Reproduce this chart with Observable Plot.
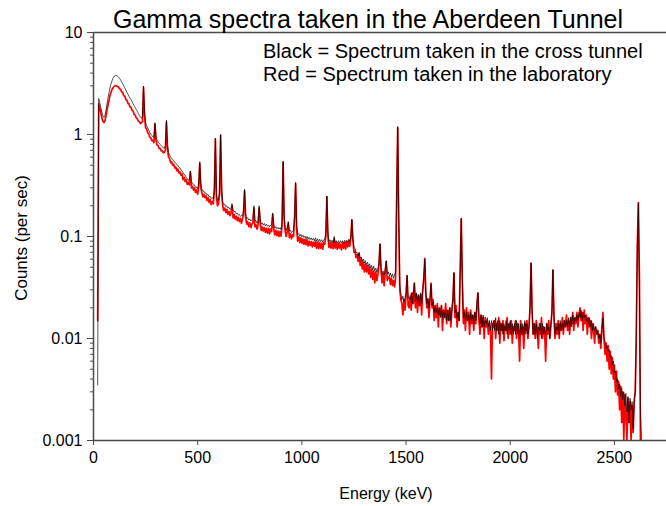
<!DOCTYPE html>
<html><head><meta charset="utf-8">
<script src="https://cdn.jsdelivr.net/npm/d3@7"></script>
<script src="https://cdn.jsdelivr.net/npm/@observablehq/plot@0.6"></script>
<style>
body{margin:0;background:#fff;}
#wrap{position:relative;width:666px;height:506px;font-family:"Liberation Sans",Arial,sans-serif;color:#000;}
.t{position:absolute;white-space:nowrap;line-height:1;}
</style></head><body>
<div id="wrap"></div>
<script>
// channel calibration (keV)
const startEnergy = 20, stepEnergy = 5;
// Black: spectrum taken in the cross tunnel (counts per sec)
const crossTunnel = [
0.0035,2.25,2.05,1.85,1.66,1.52,1.47,1.54,1.74,2.0,2.3,2.62,2.92,3.18,3.42,3.6,3.74,3.8,3.79,3.74,
3.66,3.55,3.43,3.28,3.15,3.0,2.87,2.72,2.6,2.49,2.37,2.28,2.2,2.1,2.01,1.92,1.84,1.76,1.69,1.61,
1.54,1.48,1.45,1.5,2.98,1.7,1.3,1.22,1.16,1.11,1.05,1.01,0.98,0.95,0.94,1.3,0.96,0.88,0.85,0.82,
0.8,0.78,0.76,0.74,0.73,0.78,1.38,0.8,0.67,0.63,0.6,0.58,0.57,0.55,0.54,0.52,0.51,0.5,0.48,0.47,
0.45,0.435,0.425,0.405,0.4,0.375,0.372,0.355,0.362,0.44,0.345,0.335,0.318,0.32,0.305,0.305,0.295,0.34,0.54,0.33,
0.29,0.278,0.278,0.266,0.268,0.255,0.258,0.245,0.248,0.236,0.24,0.236,0.3,0.92,0.26,0.226,0.228,0.28,1.0,0.3,
0.218,0.205,0.208,0.196,0.2,0.19,0.193,0.184,0.188,0.21,0.182,0.174,0.177,0.167,0.17,0.162,0.165,0.157,0.161,0.16,
0.18,0.29,0.17,0.15,0.153,0.145,0.149,0.142,0.146,0.15,0.2,0.142,0.143,0.135,0.142,0.2,0.15,0.132,0.136,0.129,
0.134,0.127,0.132,0.126,0.13,0.124,0.129,0.13,0.17,0.13,0.121,0.125,0.119,0.123,0.118,0.122,0.117,0.14,0.55,0.16,
0.122,0.115,0.122,0.14,0.113,0.116,0.109,0.113,0.115,0.16,0.34,0.13,0.104,0.107,0.101,0.105,0.099,0.103,0.098,0.101,
0.095,0.1,0.094,0.098,0.093,0.097,0.092,0.096,0.091,0.097,0.09,0.095,0.089,0.094,0.089,0.093,0.088,0.093,0.093,0.11,
0.25,0.11,0.089,0.093,0.087,0.092,0.087,0.1,0.087,0.091,0.086,0.091,0.085,0.091,0.086,0.091,0.086,0.092,0.087,0.092,
0.088,0.094,0.09,0.1,0.148,0.095,0.078,0.077,0.069,0.07,0.064,0.07,0.061,0.063,0.057,0.06,0.055,0.058,0.053,0.056,
0.051,0.054,0.049,0.052,0.047,0.051,0.046,0.049,0.045,0.048,0.055,0.085,0.05,0.043,0.046,0.042,0.048,0.058,0.043,0.045,
0.041,0.044,0.04,0.043,0.039,0.042,0.045,0.25,1.2,0.15,0.034,0.028,0.024,0.026,0.023,0.025,0.028,0.042,0.025,0.025,
0.024,0.028,0.022,0.029,0.035,0.023,0.028,0.022,0.027,0.021,0.028,0.022,0.029,0.04,0.06,0.03,0.022,0.025,0.02,0.025,
0.034,0.021,0.023,0.018,0.021,0.018,0.02,0.017,0.02,0.016,0.021,0.016,0.019,0.016,0.019,0.015,0.019,0.015,0.02,0.015,
0.019,0.025,0.044,0.018,0.019,0.016,0.018,0.015,0.05,0.15,0.04,0.016,0.018,0.015,0.018,0.015,0.017,0.014,0.018,0.015,
0.017,0.014,0.018,0.015,0.022,0.028,0.016,0.014,0.017,0.013,0.017,0.013,0.015,0.014,0.016,0.013,0.015,0.012,0.015,0.012,
0.015,0.012,0.016,0.012,0.015,0.011,0.015,0.012,0.014,0.011,0.014,0.012,0.015,0.011,0.014,0.012,0.015,0.011,0.014,0.011,
0.014,0.011,0.015,0.011,0.014,0.01,0.014,0.011,0.014,0.011,0.015,0.011,0.014,0.011,0.013,0.02,0.055,0.02,0.011,0.014,
0.011,0.014,0.01,0.013,0.012,0.014,0.01,0.014,0.011,0.013,0.011,0.014,0.012,0.013,0.01,0.014,0.018,0.047,0.017,0.011,
0.013,0.012,0.014,0.011,0.015,0.012,0.014,0.012,0.015,0.013,0.015,0.013,0.016,0.012,0.016,0.013,0.017,0.014,0.016,0.015,
0.017,0.015,0.018,0.016,0.019,0.015,0.018,0.016,0.017,0.015,0.016,0.014,0.016,0.013,0.015,0.012,0.014,0.012,0.013,0.011,
0.012,0.01,0.011,0.009,0.012,0.016,0.01,0.0095,0.008,0.0085,0.0075,0.0078,0.0065,0.0068,0.0055,0.006,0.0046,0.0048,0.0038,0.004,
0.0032,0.0036,0.0027,0.0033,0.0025,0.003,0.0022,0.0029,0.0019,0.0027,0.0015,0.0026,0.002,0.0024,0.0013,0.0025,0.003,0.012,0.08,0.21,
0.03,0.002,0.001
];
// Red: spectrum taken in the laboratory (counts per sec)
const laboratory = [
0.015,2.0,1.82,1.64,1.46,1.35,1.31,1.36,1.52,1.75,1.97,2.2,2.45,2.62,2.8,2.88,2.98,3.02,2.98,2.95,
2.93,2.8,2.78,2.62,2.6,2.4,2.38,2.2,2.18,2.02,2.0,1.86,1.86,1.73,1.7,1.58,1.55,1.46,1.43,1.35,
1.34,1.28,1.31,1.33,2.9,1.52,1.16,1.14,1.04,1.02,0.94,0.93,0.87,0.88,0.83,1.27,0.87,0.79,0.78,0.73,
0.73,0.69,0.69,0.66,0.67,0.7,1.32,0.73,0.6,0.58,0.53,0.54,0.5,0.51,0.47,0.48,0.44,0.46,0.42,0.43,
0.4,0.41,0.36,0.38,0.345,0.36,0.325,0.34,0.32,0.43,0.3,0.31,0.285,0.3,0.27,0.285,0.26,0.31,0.52,0.3,
0.27,0.245,0.26,0.24,0.25,0.225,0.24,0.215,0.23,0.205,0.22,0.21,0.28,0.9,0.245,0.2,0.21,0.26,0.98,0.27,
0.2,0.18,0.19,0.172,0.185,0.165,0.176,0.16,0.172,0.2,0.152,0.165,0.148,0.158,0.143,0.154,0.14,0.15,0.135,0.148,
0.165,0.28,0.155,0.132,0.14,0.125,0.136,0.122,0.132,0.136,0.19,0.124,0.13,0.118,0.13,0.19,0.136,0.115,0.124,0.113,
0.122,0.11,0.12,0.108,0.12,0.106,0.118,0.112,0.165,0.12,0.104,0.115,0.102,0.113,0.1,0.112,0.101,0.13,0.53,0.15,
0.112,0.1,0.113,0.135,0.098,0.106,0.095,0.104,0.1,0.15,0.33,0.118,0.09,0.099,0.087,0.097,0.086,0.095,0.084,0.094,
0.083,0.093,0.081,0.09,0.082,0.089,0.079,0.088,0.08,0.09,0.077,0.088,0.076,0.087,0.077,0.086,0.075,0.087,0.084,0.1,
0.245,0.1,0.078,0.087,0.077,0.086,0.076,0.095,0.077,0.086,0.075,0.085,0.077,0.084,0.074,0.086,0.077,0.087,0.075,0.088,
0.079,0.09,0.08,0.097,0.145,0.092,0.07,0.072,0.062,0.066,0.057,0.068,0.052,0.06,0.048,0.056,0.045,0.054,0.045,0.052,
0.043,0.05,0.04,0.048,0.038,0.046,0.035,0.045,0.037,0.043,0.052,0.084,0.046,0.035,0.043,0.033,0.045,0.057,0.037,0.04,
0.04,0.034,0.039,0.033,0.037,0.032,0.04,0.24,1.16,0.14,0.03,0.024,0.022,0.017,0.024,0.019,0.026,0.041,0.021,0.02,
0.026,0.019,0.028,0.022,0.035,0.02,0.027,0.018,0.026,0.021,0.027,0.017,0.03,0.038,0.061,0.026,0.02,0.024,0.016,0.023,
0.035,0.02,0.024,0.015,0.021,0.016,0.022,0.013,0.02,0.017,0.021,0.012,0.019,0.016,0.022,0.014,0.019,0.015,0.02,0.013,
0.019,0.024,0.044,0.016,0.021,0.013,0.018,0.015,0.048,0.15,0.038,0.014,0.019,0.012,0.02,0.015,0.018,0.011,0.019,0.014,
0.017,0.012,0.018,0.014,0.021,0.028,0.015,0.011,0.017,0.013,0.016,0.01,0.016,0.013,0.015,0.011,0.014,0.012,0.004,0.014,
0.013,0.015,0.01,0.014,0.012,0.016,0.009,0.014,0.012,0.015,0.0095,0.013,0.012,0.016,0.01,0.014,0.011,0.015,0.009,0.013,
0.012,0.015,0.01,0.014,0.012,0.006,0.015,0.011,0.013,0.008,0.014,0.012,0.015,0.01,0.013,0.02,0.055,0.018,0.011,0.014,
0.01,0.015,0.012,0.008,0.014,0.011,0.016,0.01,0.013,0.012,0.006,0.014,0.011,0.015,0.01,0.013,0.018,0.047,0.016,0.01,
0.014,0.011,0.015,0.01,0.014,0.012,0.016,0.011,0.015,0.013,0.017,0.012,0.015,0.011,0.016,0.014,0.018,0.012,0.016,0.014,
0.018,0.013,0.017,0.02,0.015,0.018,0.012,0.019,0.014,0.017,0.011,0.016,0.013,0.015,0.01,0.014,0.012,0.009,0.013,0.011,
0.012,0.009,0.011,0.008,0.013,0.018,0.01,0.007,0.009,0.006,0.0085,0.005,0.0075,0.0045,0.0065,0.004,0.0055,0.003,0.0048,0.0028,
0.0038,0.002,0.0034,0.0015,0.003,0.001,0.0028,0.0018,0.001,0.0026,0.0015,0.0024,0.001,0.0022,0.0012,0.0024,0.003,0.01,0.08,0.215,
0.04,0.001,0.001
];
const xTicks = [0, 500, 1000, 1500, 2000, 2500];
const yTicks = [0.001, 0.01, 0.1, 1, 10];
const yTickLabels = ["0.001", "0.01", "0.1", "1", "10"];
const yMinorTicks = [0.002,0.003,0.004,0.005,0.006,0.007,0.008,0.009,
  0.02,0.03,0.04,0.05,0.06,0.07,0.08,0.09,
  0.2,0.3,0.4,0.5,0.6,0.7,0.8,0.9,
  2,3,4,5,6,7,8,9];
const titleText = "Gamma spectra taken in the Aberdeen Tunnel";
const legendLines = ["Black = Spectrum taken in the cross tunnel", "Red = Spectrum taken in the laboratory"];
const xLabel = "Energy (keV)";
const yLabel = "Counts (per sec)";

const rows = arr => arr.map((v, i) => ({energy: startEnergy + i * stepEnergy, counts: v}));
const black = rows(crossTunnel), red = rows(laboratory);
const labelOf = new Map(yTicks.map((t, i) => [t, yTickLabels[i]]));
const axisColor = "#4a4a4a";

const chart = Plot.plot({
  width: 666, height: 506,
  marginLeft: 93, marginRight: 0, marginTop: 32, marginBottom: 66,
  style: {fontFamily: '"Liberation Sans", Arial, sans-serif', fontSize: "16px", color: "#000", background: "#fff", overflow: "visible"},
  x: {domain: [0, 2750]},
  y: {type: "log", domain: [0.001, 10]},
  marks: [
    Plot.line(red, {x: "energy", y: "counts", stroke: "#ff0000", strokeWidth: 1.7, clip: true}),
    Plot.line(black, {x: "energy", y: "counts", stroke: "#000", strokeWidth: 0.8, strokeOpacity: 0.85, clip: true}),
    Plot.ruleY([10], {stroke: axisColor, strokeWidth: 1.5}),
    Plot.ruleY([0.001], {stroke: axisColor, strokeWidth: 1.5}),
    Plot.ruleX([0], {stroke: axisColor, strokeWidth: 1.5}),
    Plot.axisX(xTicks, {tickSize: 5, tickPadding: 6, fontSize: 16, label: null, stroke: axisColor, tickFormat: d => String(d)}),
    Plot.axisY(yTicks, {tickSize: 6, tickPadding: 5, fontSize: 16, label: null, stroke: axisColor, tickFormat: d => labelOf.get(d)}),
    Plot.axisY(yMinorTicks, {tickSize: 3, label: null, stroke: axisColor, tickFormat: () => ""})
  ]
});
const wrap = document.getElementById("wrap");
wrap.appendChild(chart);
function addText(txt, css) {
  const d = document.createElement("div");
  d.className = "t"; d.textContent = txt; d.style.cssText += css;
  wrap.appendChild(d);
}
addText(titleText, "left:368px;top:7px;font-size:25px;transform:translateX(-50%);");
addText(legendLines[0], "left:263px;top:41px;font-size:20px;");
addText(legendLines[1], "left:263px;top:64px;font-size:20px;");
addText(xLabel, "left:386px;top:486px;font-size:16px;transform:translateX(-50%);");
addText(yLabel, "left:21px;top:238px;font-size:17px;transform:translate(-50%,-50%) rotate(-90deg);");
if (crossTunnel.length !== 523 || laboratory.length !== 523) addText("LEN " + crossTunnel.length + " " + laboratory.length, "left:300px;top:300px;font-size:30px;color:blue;");
</script>
</body></html>
